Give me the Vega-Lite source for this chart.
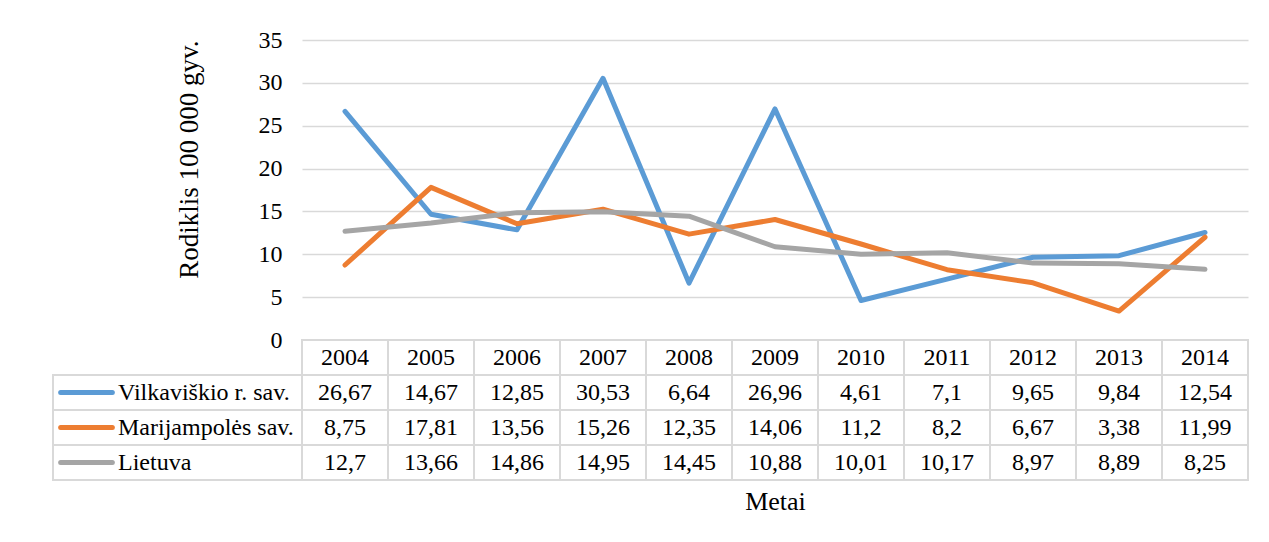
{
  "$schema": "https://vega.github.io/schema/vega-lite/v6.json",
  "padding": {"left": 50, "top": 28, "right": 20, "bottom": 10},
  "background": "white",
  "columns": 2,
  "spacing": 0,
  "bounds": "flush",
  "datasets": {
    "d": [
      {"year": "2004", "series": "Vilkaviškio r. sav.", "value": 26.67},
      {"year": "2005", "series": "Vilkaviškio r. sav.", "value": 14.67},
      {"year": "2006", "series": "Vilkaviškio r. sav.", "value": 12.85},
      {"year": "2007", "series": "Vilkaviškio r. sav.", "value": 30.53},
      {"year": "2008", "series": "Vilkaviškio r. sav.", "value": 6.64},
      {"year": "2009", "series": "Vilkaviškio r. sav.", "value": 26.96},
      {"year": "2010", "series": "Vilkaviškio r. sav.", "value": 4.61},
      {"year": "2011", "series": "Vilkaviškio r. sav.", "value": 7.1},
      {"year": "2012", "series": "Vilkaviškio r. sav.", "value": 9.65},
      {"year": "2013", "series": "Vilkaviškio r. sav.", "value": 9.84},
      {"year": "2014", "series": "Vilkaviškio r. sav.", "value": 12.54},
      {"year": "2004", "series": "Marijampolės sav.", "value": 8.75},
      {"year": "2005", "series": "Marijampolės sav.", "value": 17.81},
      {"year": "2006", "series": "Marijampolės sav.", "value": 13.56},
      {"year": "2007", "series": "Marijampolės sav.", "value": 15.26},
      {"year": "2008", "series": "Marijampolės sav.", "value": 12.35},
      {"year": "2009", "series": "Marijampolės sav.", "value": 14.06},
      {"year": "2010", "series": "Marijampolės sav.", "value": 11.2},
      {"year": "2011", "series": "Marijampolės sav.", "value": 8.2},
      {"year": "2012", "series": "Marijampolės sav.", "value": 6.67},
      {"year": "2013", "series": "Marijampolės sav.", "value": 3.38},
      {"year": "2014", "series": "Marijampolės sav.", "value": 11.99},
      {"year": "2004", "series": "Lietuva", "value": 12.7},
      {"year": "2005", "series": "Lietuva", "value": 13.66},
      {"year": "2006", "series": "Lietuva", "value": 14.86},
      {"year": "2007", "series": "Lietuva", "value": 14.95},
      {"year": "2008", "series": "Lietuva", "value": 14.45},
      {"year": "2009", "series": "Lietuva", "value": 10.88},
      {"year": "2010", "series": "Lietuva", "value": 10.01},
      {"year": "2011", "series": "Lietuva", "value": 10.17},
      {"year": "2012", "series": "Lietuva", "value": 8.97},
      {"year": "2013", "series": "Lietuva", "value": 8.89},
      {"year": "2014", "series": "Lietuva", "value": 8.25}
    ],
    "years": [
      {"year": "2004"}, {"year": "2005"}, {"year": "2006"}, {"year": "2007"},
      {"year": "2008"}, {"year": "2009"}, {"year": "2010"}, {"year": "2011"},
      {"year": "2012"}, {"year": "2013"}, {"year": "2014"}
    ],
    "series": [
      {"series": "Vilkaviškio r. sav."},
      {"series": "Marijampolės sav."},
      {"series": "Lietuva"}
    ]
  },
  "concat": [
    {
      "width": 249,
      "height": 300,
      "data": {"values": []},
      "mark": "point",
      "encoding": {}
    },
    {
      "width": 946,
      "height": 300,
      "data": {"name": "d"},
      "mark": {"type": "line", "strokeWidth": 5, "strokeCap": "round", "strokeJoin": "round"},
      "encoding": {
        "x": {"field": "year", "type": "ordinal", "scale": {"type": "band", "paddingInner": 0, "paddingOuter": 0}, "bandPosition": 0.5, "axis": null},
        "y": {
          "field": "value", "type": "quantitative",
          "scale": {"domain": [0, 35], "nice": false},
          "axis": {
            "values": [0, 5, 10, 15, 20, 25, 30, 35],
            "title": "Rodiklis 100 000 gyv.",
            "grid": true, "gridColor": "#D9D9D9", "gridWidth": 1.5,
            "domain": false, "ticks": false,
            "labelFontSize": 24, "labelPadding": 20, "labelColor": "black", "labelFont": "Liberation Serif",
            "titleFont": "Liberation Serif", "titleFontSize": 27, "titleFontWeight": "normal", "titleColor": "black", "titlePadding": 55, "titleAnchor": "end"
          }
        },
        "color": {
          "field": "series", "type": "nominal",
          "scale": {"domain": ["Vilkaviškio r. sav.", "Marijampolės sav.", "Lietuva"], "range": ["#5B9BD5", "#ED7D31", "#A5A5A5"]},
          "legend": null
        }
      }
    },
    {
      "width": 249,
      "height": 140,
      "data": {"name": "series"},
      "encoding": {
        "y": {"field": "series", "type": "nominal", "sort": null, "scale": {"domain": ["hdr", "Vilkaviškio r. sav.", "Marijampolės sav.", "Lietuva"], "paddingInner": 0, "paddingOuter": 0}, "axis": null}
      },
      "layer": [
        {"mark": {"type": "rect", "fill": "white", "stroke": "#D9D9D9", "strokeWidth": 2}},
        {
          "mark": {"type": "point", "shape": "stroke", "size": 2673, "strokeWidth": 5, "strokeCap": "round", "xOffset": -91, "opacity": 1},
          "encoding": {
            "color": {
              "field": "series", "type": "nominal",
              "scale": {"domain": ["Vilkaviškio r. sav.", "Marijampolės sav.", "Lietuva"], "range": ["#5B9BD5", "#ED7D31", "#A5A5A5"]},
              "legend": null
            }
          }
        },
        {
          "mark": {"type": "text", "align": "left", "dx": -59.5, "fontSize": 24, "color": "black", "font": "Liberation Serif"},
          "encoding": {"text": {"field": "series", "type": "nominal"}}
        }
      ]
    },
    {
      "width": 946,
      "height": 140,
      "encoding": {
        "x": {
          "field": "year", "type": "ordinal",
          "scale": {"type": "band", "paddingInner": 0, "paddingOuter": 0},
          "axis": {"title": "Metai", "labels": false, "ticks": false, "domain": false, "titleFont": "Liberation Serif", "titleFontSize": 26, "titleFontWeight": "normal", "titleColor": "black", "titlePadding": 8}
        }
      },
      "layer": [
        {
          "data": {"name": "years"},
          "mark": {"type": "rect", "fill": "white", "stroke": "#D9D9D9", "strokeWidth": 2},
          "encoding": {"y": {"datum": "hdr", "type": "nominal", "scale": {"domain": ["hdr", "Vilkaviškio r. sav.", "Marijampolės sav.", "Lietuva"], "paddingInner": 0, "paddingOuter": 0}, "axis": null}}
        },
        {
          "data": {"name": "years"},
          "mark": {"type": "text", "fontSize": 24, "color": "black", "font": "Liberation Serif"},
          "encoding": {"y": {"datum": "hdr", "type": "nominal", "axis": null}, "text": {"field": "year", "type": "nominal"}}
        },
        {
          "data": {"name": "d"},
          "mark": {"type": "rect", "fill": "white", "stroke": "#D9D9D9", "strokeWidth": 2},
          "encoding": {"y": {"field": "series", "type": "nominal", "axis": null}}
        },
        {
          "data": {"name": "d"},
          "mark": {"type": "text", "fontSize": 24, "color": "black", "font": "Liberation Serif"},
          "encoding": {"y": {"field": "series", "type": "nominal", "axis": null}, "text": {"field": "value", "type": "quantitative", "format": ".2~f"}}
        }
      ]
    }
  ],
  "config": {
    "view": {"stroke": null},
    "font": "Liberation Serif",
    "text": {"font": "Liberation Serif"},
    "axis": {"labelFont": "Liberation Serif", "titleFont": "Liberation Serif"},
    "locale": {"number": {"decimal": ",", "thousands": " ", "grouping": [3], "currency": ["", " €"]}}
  }
}
